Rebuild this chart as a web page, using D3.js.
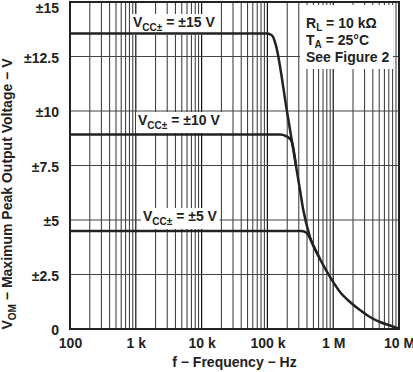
<!DOCTYPE html>
<html>
<head>
<meta charset="utf-8">
<script src="https://cdn.jsdelivr.net/npm/d3@7"></script>
<style>
  body { margin: 0; background: #fff; }
  text { font-family: "Liberation Sans", Arial, sans-serif; font-weight: bold; fill: #222; }
</style>
</head>
<body>
<svg id="chart" width="413" height="372"></svg>
<script>
const width = 413, height = 372

// axis ticks
const freqTicks = [100, 1e3, 1e4, 1e5, 1e6, 1e7]
const freqLabels = ["100", "1 k", "10 k", "100 k", "1 M", "10 M"]
const voltTicks = [0, 2.5, 5, 7.5, 10, 12.5, 15]
const voltLabels = ["0", "±2.5", "±5", "±7.5", "±10", "±12.5", "±15"]

// curves (frequency in Hz, VOM in V)
const freq15 = [100, 100e3, 110e3, 122e3, 135e3, 198e3, 255e3, 312e3, 351e3, 444e3, 630e3, 894e3, 1.27e6, 1.8e6, 2.55e6, 3.62e6, 5.14e6, 7.29e6, 1e7]
const vom15  = [13.55, 13.55, 13.52, 13.4, 13.0, 10.0, 8.0, 6.4, 5.46, 4.22, 3.21, 2.39, 1.70, 1.24, 0.87, 0.55, 0.32, 0.16, 0.02]
const freq10 = [100, 155e3, 192e3, 220e3, 237e3, 272e3]
const vom10  = [8.92, 8.92, 8.85, 8.72, 8.55, 7.5]
const freq5  = [100, 324e3, 373e3, 414e3, 460e3, 630e3]
const vom5   = [4.5, 4.5, 4.46, 4.33, 4.05, 3.21]

const svg = d3.select("#chart")

let x = d3.scaleLog()
      .domain([100, 1e7])
      .range([70, 399])

let y = d3.scaleLinear()
      .domain([0, 15])
      .range([329, 2])

// grid
let minor = []
freqTicks.slice(0, -1).forEach(d => {
  for (let k = 2; k <= 9; k++) minor.push(d * k)
})

svg.append("g")
   .selectAll("line")
   .data(minor)
   .enter()
   .append("line")
    .attr("x1", d => x(d)).attr("x2", d => x(d))
    .attr("y1", y(15)).attr("y2", y(0))
    .attr("stroke", "#333")
    .attr("stroke-width", 1)

svg.append("g")
   .selectAll("line")
   .data(freqTicks)
   .enter()
   .append("line")
    .attr("x1", d => x(d)).attr("x2", d => x(d))
    .attr("y1", y(15)).attr("y2", y(0))
    .attr("stroke", "#111")
    .attr("stroke-width", 1.2)

svg.append("g")
   .selectAll("line")
   .data(voltTicks.slice(1, -1))
   .enter()
   .append("line")
    .attr("x1", x(100)).attr("x2", x(1e7))
    .attr("y1", d => y(d)).attr("y2", d => y(d))
    .attr("stroke", "#444")
    .attr("stroke-width", 1)

// axes (labels only)
let xAxis = svg.append("g")
   .attr("transform", `translate(0,${y(0) + 6})`)
   .call(d3.axisBottom(x).tickValues(freqTicks).tickFormat((d, i) => freqLabels[i]).tickSize(0))
xAxis.select(".domain").remove()
xAxis.selectAll("text")
   .style("font-size", "14px")
   .attr("fill", "#222")

let yAxis = svg.append("g")
   .attr("transform", `translate(${x(100) - 8},0)`)
   .call(d3.axisLeft(y).tickValues(voltTicks).tickFormat((d, i) => voltLabels[i]).tickSize(0))
yAxis.select(".domain").remove()
yAxis.selectAll("text")
   .style("font-size", "14px")
   .attr("fill", "#222")
   .attr("dy", d => d == 15 ? "0.75em" : "0.42em")

// label with white box behind it
function boxedLabel(px, py, main, sub, rest) {
  let g = svg.append("g")
  let t = g.append("text")
    .attr("x", px).attr("y", py)
    .style("font-size", "14px")
  t.append("tspan").text(main)
  t.append("tspan").text(sub).attr("dy", 4).style("font-size", "10px")
  t.append("tspan").text(rest).attr("dy", -4)
  let b = t.node().getBBox()
  g.insert("rect", "text")
    .attr("x", b.x - 2).attr("y", b.y)
    .attr("width", b.width + 4).attr("height", b.height + 2)
    .attr("fill", "#fff")
}

// curves
let line = d3.line()
    .x(d => x(d[0]))
    .y(d => y(d[1]))
    .curve(d3.curveMonotoneX)

boxedLabel(133, 27, "V", "CC±", " = ±15 V")
boxedLabel(138, 125, "V", "CC±", " = ±10 V")
boxedLabel(143, 221, "V", "CC±", " = ±5 V")

;[[freq15, vom15], [freq10, vom10], [freq5, vom5]].forEach(s => {
  svg.append("path")
    .datum(s[0].map((f, i) => [f, s[1][i]]))
    .attr("d", line)
    .attr("fill", "none")
    .attr("stroke", "#222")
    .attr("stroke-width", 2.5)
})

// conditions box
svg.append("rect")
  .attr("x", 300).attr("y", 5)
  .attr("width", 93).attr("height", 64)
  .attr("fill", "#fff")

let notes = [["R", "L", " = 10 kΩ"], ["T", "A", " = 25°C"], ["See Figure 2", "", ""]]
notes.forEach((n, i) => {
  let t = svg.append("text")
    .attr("x", 306).attr("y", 28 + i * 17)
    .style("font-size", "14px")
  t.append("tspan").text(n[0])
  t.append("tspan").text(n[1]).attr("dy", 3).style("font-size", "10px")
  t.append("tspan").text(n[2]).attr("dy", -3)
})

// frame
svg.append("rect")
  .attr("x", x(100)).attr("y", y(15))
  .attr("width", x(1e7) - x(100)).attr("height", y(0) - y(15))
  .attr("fill", "none")
  .attr("stroke", "#222")
  .attr("stroke-width", 2)

// titles
svg.append("text")
  .attr("x", (x(100) + x(1e7)) / 2).attr("y", 367)
  .attr("text-anchor", "middle")
  .style("font-size", "14px")
  .text("f − Frequency − Hz")

let yt = svg.append("text")
  .attr("transform", "translate(12,194) rotate(-90)")
  .attr("text-anchor", "middle")
  .style("font-size", "14px")
yt.append("tspan").text("V")
yt.append("tspan").text("OM").attr("dy", 4).style("font-size", "10px")
yt.append("tspan").text(" − Maximum Peak Output Voltage − V").attr("dy", -4)
</script>
</body>
</html>
